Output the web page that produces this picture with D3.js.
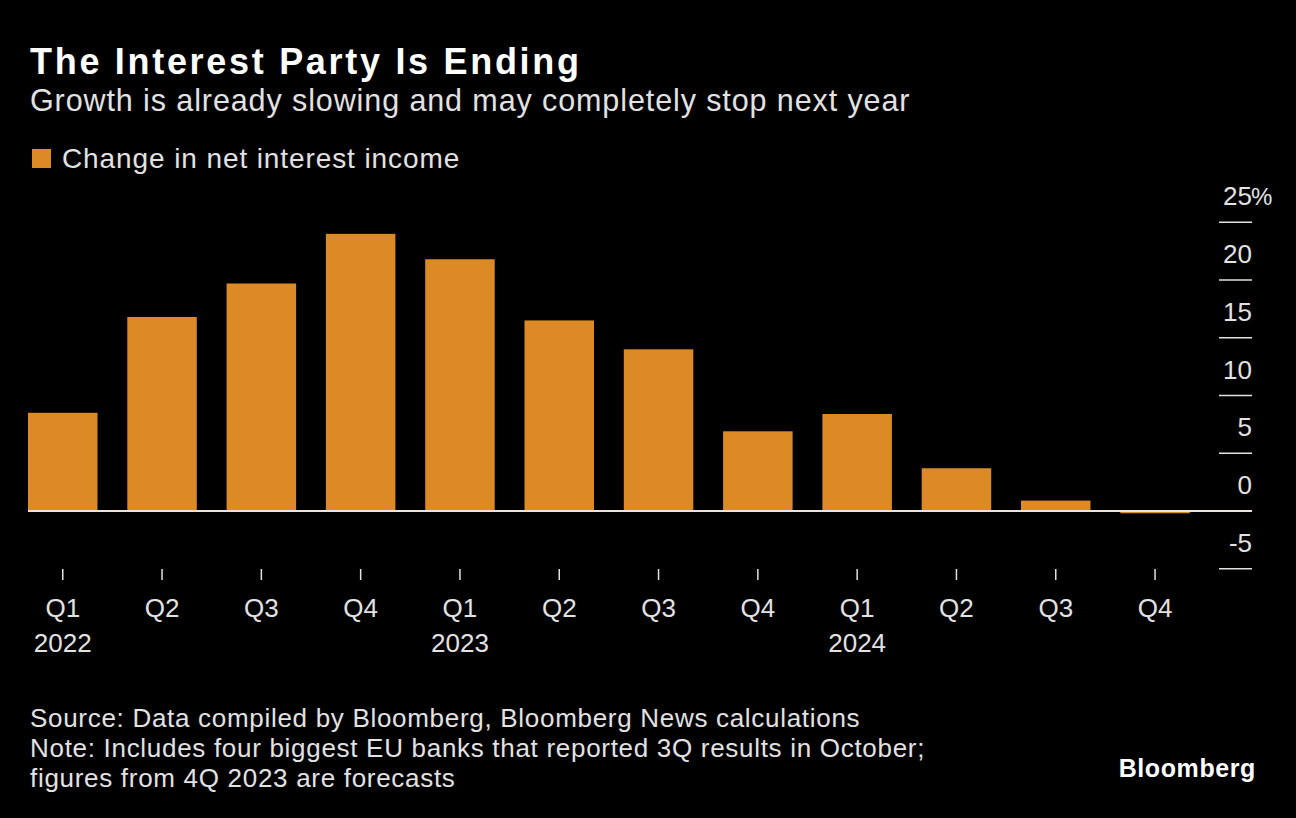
<!DOCTYPE html>
<html>
<head>
<meta charset="utf-8">
<script src="https://cdn.jsdelivr.net/npm/d3@7"></script>
<style>
  body { margin: 0; background: #000; }
  svg { display: block; }
  text { font-family: "Liberation Sans", Arial, sans-serif; }
</style>
</head>
<body>
<svg width="1296" height="818"></svg>
<script>
const quarters = ["Q1", "Q2", "Q3", "Q4", "Q1", "Q2", "Q3", "Q4", "Q1", "Q2", "Q3", "Q4"];
const years = ["2022", "", "", "", "2023", "", "", "", "2024", "", "", ""];
const niiChange = [8.5, 16.8, 19.7, 24.0, 21.8, 16.5, 14.0, 6.9, 8.4, 3.7, 0.9, -0.2];
const yTicks = [-5, 0, 5, 10, 15, 20, 25];

const barColor = "#db8a25";
const textColor = "#e2e2e2";

const svg = d3.select("svg");
const width = 1296;

svg.append("rect")
    .attr("width", width)
    .attr("height", 818)
    .attr("fill", "#000");

const data = niiChange.map((v, i) => ({ key: i, q: quarters[i], year: years[i], value: v }));

const x = d3.scaleBand()
    .domain(data.map(d => d.key))
    .range([13.1, 13.1 + 12 * 99.3])
    .paddingInner(0.3)
    .paddingOuter(0.15);

const y = d3.scaleLinear()
    .domain([-5, 25])
    .range([568.7, 222.3]);

// header
svg.append("text")
    .attr("x", 30)
    .attr("y", 74)
    .attr("fill", "#fff")
    .attr("font-size", 36)
    .attr("font-weight", "bold")
    .attr("letter-spacing", 2.7)
    .text("The Interest Party Is Ending");

svg.append("text")
    .attr("x", 30)
    .attr("y", 111)
    .attr("fill", textColor)
    .attr("font-size", 30.5)
    .attr("letter-spacing", 0.9)
    .text("Growth is already slowing and may completely stop next year");

// legend
svg.append("rect")
    .attr("x", 32)
    .attr("y", 149)
    .attr("width", 19)
    .attr("height", 19)
    .attr("fill", barColor);

svg.append("text")
    .attr("x", 62)
    .attr("y", 168)
    .attr("fill", textColor)
    .attr("font-size", 28)
    .attr("letter-spacing", 0.9)
    .text("Change in net interest income");

// bars
svg.append("g")
    .selectAll("rect")
    .data(data)
    .join("rect")
    .attr("x", d => x(d.key))
    .attr("y", d => y(Math.max(0, d.value)))
    .attr("width", x.bandwidth())
    .attr("height", d => Math.abs(y(d.value) - y(0)))
    .attr("fill", barColor);

// zero line
svg.append("line")
    .attr("x1", x(0))
    .attr("x2", 1252)
    .attr("y1", y(0))
    .attr("y2", y(0))
    .attr("stroke", "#ece4da")
    .attr("stroke-width", 2);

// y axis on the right
const yAxis = svg.append("g");
yAxis.selectAll("line")
    .data(yTicks.filter(t => t !== 0))
    .join("line")
    .attr("x1", 1219)
    .attr("x2", 1252)
    .attr("y1", d => y(d))
    .attr("y2", d => y(d))
    .attr("stroke", textColor)
    .attr("stroke-width", 1.5);

yAxis.selectAll("text")
    .data(yTicks)
    .join("text")
    .attr("x", 1252)
    .attr("y", d => y(d) - 17)
    .attr("text-anchor", "end")
    .attr("fill", textColor)
    .attr("font-size", 26)
    .text(d => d);

svg.append("text")
    .attr("x", 1251)
    .attr("y", y(25) - 17)
    .attr("fill", textColor)
    .attr("font-size", 24)
    .text("%");

// x axis
const xAxis = svg.append("g");
xAxis.selectAll("line")
    .data(data)
    .join("line")
    .attr("x1", d => x(d.key) + x.bandwidth() / 2)
    .attr("x2", d => x(d.key) + x.bandwidth() / 2)
    .attr("y1", 569)
    .attr("y2", 580)
    .attr("stroke", textColor)
    .attr("stroke-width", 1.5);

xAxis.selectAll(".q")
    .data(data)
    .join("text")
    .attr("class", "q")
    .attr("x", d => x(d.key) + x.bandwidth() / 2)
    .attr("y", 617)
    .attr("text-anchor", "middle")
    .attr("fill", textColor)
    .attr("font-size", 26)
    .text(d => d.q);

xAxis.selectAll(".yr")
    .data(data.filter(d => d.year))
    .join("text")
    .attr("class", "yr")
    .attr("x", d => x(d.key) + x.bandwidth() / 2)
    .attr("y", 652)
    .attr("text-anchor", "middle")
    .attr("fill", textColor)
    .attr("font-size", 26)
    .text(d => d.year);

// footer
const notes = [
    "Source: Data compiled by Bloomberg, Bloomberg News calculations",
    "Note: Includes four biggest EU banks that reported 3Q results in October;",
    "figures from 4Q 2023 are forecasts"
];
svg.append("g")
    .selectAll("text")
    .data(notes)
    .join("text")
    .attr("x", 30)
    .attr("y", (d, i) => 727 + i * 30)
    .attr("fill", textColor)
    .attr("font-size", 26)
    .attr("letter-spacing", 0.7)
    .text(d => d);

svg.append("text")
    .attr("x", 1256)
    .attr("y", 777)
    .attr("text-anchor", "end")
    .attr("fill", "#fff")
    .attr("font-size", 25)
    .attr("font-weight", "bold")
    .attr("letter-spacing", 0.6)
    .text("Bloomberg");
</script>
</body>
</html>
